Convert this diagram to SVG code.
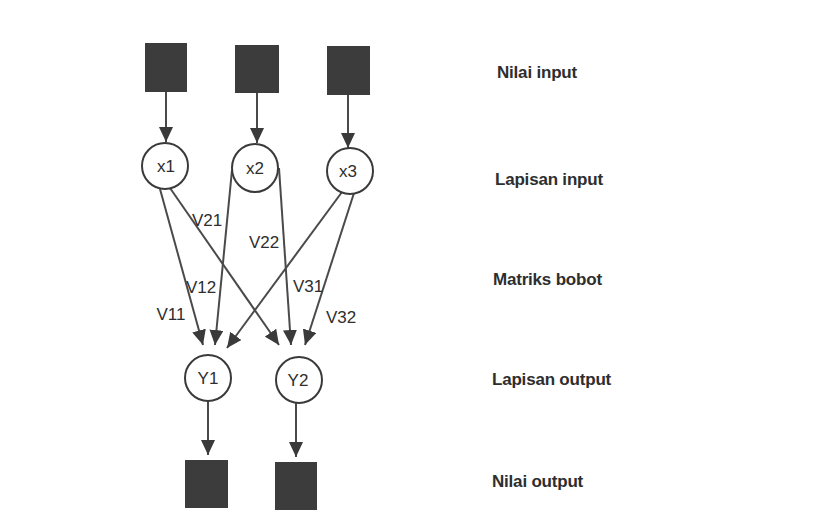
<svg xmlns="http://www.w3.org/2000/svg" width="815" height="523" viewBox="0 0 815 523">
<style>
.sq{fill:#3c3c3c;}
.nd{fill:#fff;stroke:#3a3a3a;stroke-width:2;}
.t{font-family:"Liberation Sans",Arial,sans-serif;fill:#2e2e2e;}
.lbl{font-size:17px;text-anchor:middle;}
.side{font-size:17px;font-weight:bold;letter-spacing:-0.2px;}
.w{font-size:17px;text-anchor:middle;}
.c{stroke:#4a4a4a;stroke-width:2;fill:none;marker-end:url(#ah);}
</style>
<defs>
<marker id="ah" markerUnits="userSpaceOnUse" markerWidth="16" markerHeight="14" refX="15" refY="7" orient="auto">
<path d="M0,0 L15,7 L0,14 z" fill="#3a3a3a"/>
</marker>
</defs>
<rect width="815" height="523" fill="#fff"/>
<g id="connectors">
<line class="c" x1="166" y1="92" x2="166" y2="142"/>
<line class="c" x1="257" y1="93" x2="257" y2="143"/>
<line class="c" x1="348" y1="95" x2="348" y2="148"/>
<line class="c" x1="160" y1="189" x2="203" y2="345"/>
<line class="c" x1="170" y1="188" x2="279" y2="345"/>
<line class="c" x1="232" y1="170" x2="215" y2="345"/>
<line class="c" x1="279" y1="168" x2="291" y2="345"/>
<line class="c" x1="342" y1="192" x2="227" y2="348"/>
<line class="c" x1="354" y1="193" x2="305" y2="345"/>
<line class="c" x1="208" y1="401" x2="208" y2="455"/>
<line class="c" x1="296" y1="403" x2="296" y2="457"/>
</g>
<g id="in1"><rect class="sq" x="145" y="43" width="42" height="49"/></g>
<g id="in2"><rect class="sq" x="235" y="45" width="44" height="48"/></g>
<g id="in3"><rect class="sq" x="327" y="46" width="43" height="49"/></g>
<g id="x1"><circle class="nd" cx="165" cy="166" r="23"/><text class="t lbl" x="166" y="172">x1</text></g>
<g id="x2"><ellipse class="nd" cx="255" cy="168" rx="23" ry="24"/><text class="t lbl" x="255" y="174">x2</text></g>
<g id="x3"><circle class="nd" cx="350" cy="171" r="23"/><text class="t lbl" x="348" y="177">x3</text></g>
<g id="y1"><circle class="nd" cx="208" cy="378" r="23"/><text class="t lbl" x="208" y="384">Y1</text></g>
<g id="y2"><circle class="nd" cx="299" cy="380" r="23"/><text class="t lbl" x="298" y="386">Y2</text></g>
<g id="out1"><rect class="sq" x="185" y="460" width="43" height="48"/></g>
<g id="out2"><rect class="sq" x="275" y="462" width="42" height="48"/></g>
<g id="weights">
<text class="t w" x="207" y="226">V21</text>
<text class="t w" x="264" y="248">V22</text>
<text class="t w" x="201" y="293">V12</text>
<text class="t w" x="171" y="320">V11</text>
<text class="t w" x="308" y="292">V31</text>
<text class="t w" x="341" y="323">V32</text>
</g>
<g id="labels">
<text class="t side" x="497" y="78">Nilai input</text>
<text class="t side" x="495" y="185">Lapisan input</text>
<text class="t side" x="493" y="285">Matriks bobot</text>
<text class="t side" x="492" y="385">Lapisan output</text>
<text class="t side" x="492" y="487">Nilai output</text>
</g>
</svg>
